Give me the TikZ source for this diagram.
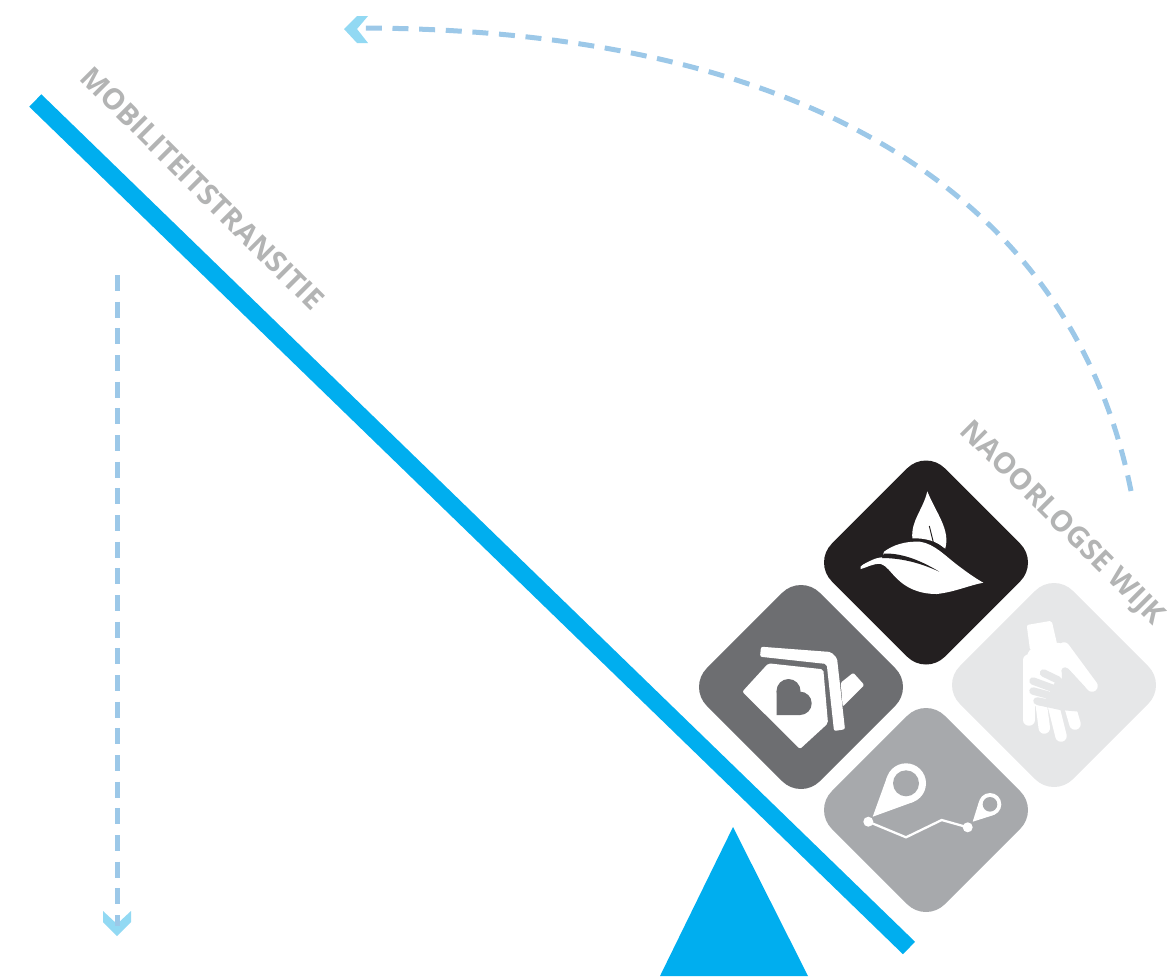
\documentclass[tikz,border=0pt]{standalone}
\usepackage{fontspec}
\setmainfont{Open Sans}
\definecolor{bluebar}{HTML}{00AEEF}
\definecolor{dashblue}{HTML}{9CC8E8}
\definecolor{headblue}{HTML}{92D9F3}
\definecolor{tileblack}{HTML}{231F20}
\definecolor{tiledark}{HTML}{6D6E71}
\definecolor{tilemid}{HTML}{A7A9AC}
\definecolor{tilelight}{HTML}{E6E7E8}
\definecolor{labelgray}{HTML}{B3B4B4}
\tikzset{
  tile/.style={rotate=45,minimum size=119.9pt,inner sep=0pt,rounded corners=20pt,draw=none},
  tilelabel/.style={rotate=-45,text=labelgray,font=\fontsize{21.8pt}{23pt}\selectfont\bfseries,inner sep=0pt},
  dashline/.style={draw=dashblue,line width=3.75pt,dash pattern=on 12pt off 8pt},
  chevron/.style={fill=headblue,draw=none},
  icon/.style={fill=white,draw=none},
  bar/.style={draw=bluebar,line width=13pt}
}
\begin{document}
\begin{tikzpicture}[x=0.75pt,y=-0.75pt]
\useasboundingbox (0,0) rectangle (1167,976);

% chevrons (beneath the dashed lines)
\fill[chevron] (344,29) -- (357,16) -- (368,16) -- (357,29) -- (368,43) -- (357,43) -- cycle;
\fill[chevron] (117,936) -- (103,922) -- (103,911) -- (117,924) -- (131,911) -- (131,922) -- cycle;

% dashed arrows
\coordinate (arcstart) at (1131,491);
\coordinate (arcend) at (357,28);
\coordinate (dropstart) at (117,275);
\coordinate (dropend) at (117,926);
\draw[dashline] (arcstart) .. controls (1070,185) and (790,28) .. (arcend);
\draw[dashline] (dropstart) -- (dropend);

% seesaw
\coordinate (barleft) at (35.3,100.5);
\coordinate (barright) at (909,948);
\draw[bar] (barleft) -- (barright);
\fill[bluebar] (733,827) -- (808,976) -- (660,976) -- cycle;

% labels
\node[tilelabel] (mobility) at (202.5,188.5) {MOBILITEITSTRANSITIE};
\node[tilelabel] (district) at (1061.5,524) {NAOORLOGSE WIJK};

% tiles
\node[tile,fill=tileblack] (leaftile) at (926,562.5) {};
\node[tile,fill=tiledark] (housetile) at (801,687) {};
\node[tile,fill=tilemid] (pintile) at (926,810) {};
\node[tile,fill=tilelight] (handtile) at (1054,685) {};

% leaf icon
\fill[icon] (927.3,491.3) .. controls (923,510) and (911,520) .. (912.3,538.3)
  .. controls (925,538) and (938,541) .. (945,549.3)
  .. controls (951,530) and (936,513) .. (927.3,491.3) -- cycle;
\draw[tileblack,line width=0.7pt] (929.3,526) -- (934,545);
\draw[tileblack,line width=1.5pt] (912,540) .. controls (925,540) and (938,544) .. (948,552);
\fill[icon] (860.7,569)
  .. controls (858,566) and (866,563) .. (872,560)
  .. controls (876,558) and (880,557.5) .. (884,557)
  .. controls (882,555) and (884,553) .. (884,551.7)
  .. controls (893,545) and (905,541) .. (920,541.7)
  .. controls (935,544) and (945,556) .. (960,567)
  .. controls (968,573) and (975,578) .. (983.3,582.7)
  .. controls (970,585) and (955,592) .. (936.7,594)
  .. controls (918,594) and (905,587) .. (896.7,578.3)
  .. controls (890,572) and (887,566) .. (881,564)
  .. controls (873,563) and (866,568) .. (860.7,569) -- cycle;
\fill[tileblack] (884,553.5) .. controls (905,553) and (925,563) .. (939.3,571.7)
  .. controls (925,565) and (905,558) .. (882,558) -- cycle;

% house icon
\fill[icon,rounded corners=1.5pt] (761,646.7) -- (831,652) -- (837,658) -- (845,729.3) -- (834,731)
  -- (826.7,664) -- (760,656.7) -- cycle;
\fill[icon,rounded corners=1pt] (840.7,682.7) -- (853.3,672.7) -- (864.3,685) -- (842.7,706.7) -- cycle;
\fill[icon,rounded corners=1.5pt] (768.3,663.3) -- (823.3,669.3) -- (828,723.3) -- (800,749)
  -- (742.3,691.7) -- cycle;
\fill[tiledark] (776.7,715) -- (776.7,691) -- (788,691) -- (800,703) -- (800,715) -- cycle;
\fill[tiledark] (788.5,691) circle[radius=12];
\fill[tiledark] (800,703.3) circle[radius=11.7];

% route and pins icon
\fill[icon] (872.7,816.7) -- (887.2,776.5) -- (906,783.3) -- (912.8,802.1) -- cycle;
\fill[icon] (906,783.3) circle[radius=20];
\fill[tilemid] (906,783.3) circle[radius=13];
\fill[icon] (972.7,821.7) -- (979.2,800.9) -- (990,804.3) -- (993.4,815.1) -- cycle;
\fill[icon] (990,804.3) circle[radius=11.3];
\fill[tilemid] (990,804.3) circle[radius=7.3];
\fill[icon] (868.3,821.7) circle[radius=5];
\fill[icon] (967.7,827.3) circle[radius=5];
\draw[white,line width=1.7pt] (868.3,821.7) -- (906,837.3) -- (941.7,820) -- (967.7,827.3);

% hands icon
\fill[icon,rounded corners=1.5pt] (1026.7,625) -- (1051.7,620.7) -- (1057.3,645) -- (1030,650) -- cycle;
\fill[icon,rounded corners=4pt] (1023.3,706) -- (1023.3,665) -- (1030,648) -- (1062,642) -- (1090,684) -- (1078,706) -- cycle;
\begin{scope}[line cap=round,white,line width=8.6pt]
  \draw (1029,660) -- (1029,720);
  \draw (1040,695) -- (1044.3,728);
  \draw (1052,700) -- (1061,736);
  \draw (1068,700) -- (1075,724);
\end{scope}
\fill[tilelight] (1061.7,679) -- (1062,672) -- (1068,668.5) -- (1089,691) -- (1080,711.7) -- (1060,710) -- (1037,705)
  -- (1045,700) -- (1048,695) -- (1052,688) -- (1056,680) -- cycle;
\begin{scope}[line cap=round,tilelight,line width=5.6pt]
  \draw (1043.5,673) -- (1058,680);
  \draw (1033,681) -- (1052,688);
  \draw (1033,691) -- (1048,695);
  \draw (1037,701) -- (1048,703);
  \draw (1065,671) -- (1075,682);
\end{scope}
\draw[white,line width=8.6pt,line cap=round] (1064,648) -- (1092,686);
\end{tikzpicture}
\end{document}
